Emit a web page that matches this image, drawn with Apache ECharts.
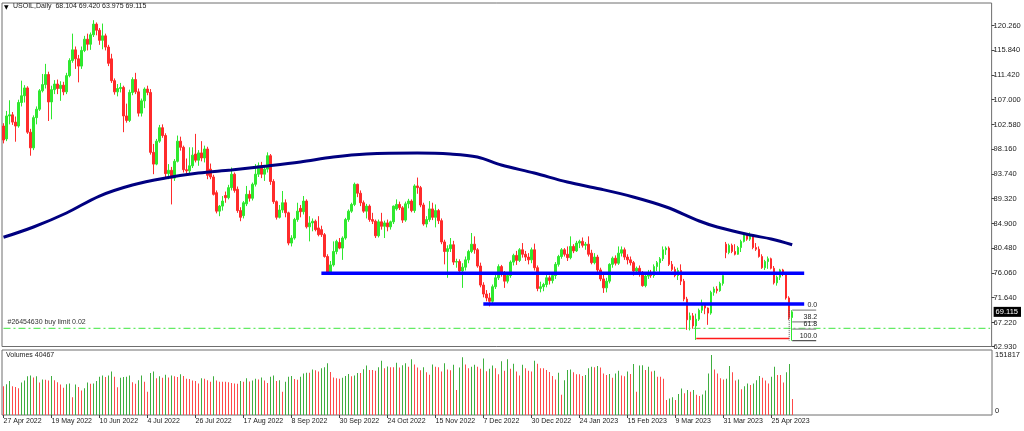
<!DOCTYPE html>
<html><head><meta charset="utf-8">
<script src="https://cdn.jsdelivr.net/npm/echarts@6/dist/echarts.min.js"></script>
<style>html,body{margin:0;padding:0;background:#fff}#c{width:1024px;height:431px}</style>
</head><body><div id="c"></div>
<script>
// ---- data ----
const firstDay = [2022, 3, 27];           // 27 Apr 2022
const barCount = 264;
const skippedDays = ['2022-12-26', '2023-01-02', '2023-04-07'];
const symbolName = 'USOIL,Daily';

const opens = [102.3,100.0,104.1,104.3,103.0,102.3,106.5,107.7,109.1,101.2,
98.4,103.8,105.3,108.6,109.7,111.5,106.6,108.8,109.8,109.0,
109.6,108.4,111.3,114.0,115.9,114.3,113.0,115.8,117.8,116.9,
118.6,120.5,119.4,117.6,118.4,116.4,114.3,110.4,108.4,109.0,
109.2,104.1,103.3,108.3,110.6,108.4,104.6,106.8,108.9,108.3,
97.6,95.5,99.6,102.0,100.6,93.8,94.4,93.0,96.0,99.6,
98.5,94.5,94.3,95.2,97.3,96.2,97.5,96.6,98.2,94.6,
93.2,90.4,87.1,88.0,89.9,89.5,91.3,93.7,91.0,87.2,
86.3,88.4,90.1,89.4,91.9,93.7,95.2,93.7,94.6,97.0,
92.4,88.8,86.0,87.3,88.6,86.8,81.4,82.3,85.6,87.6,
87.0,88.9,84.3,85.0,85.3,84.1,83.8,82.9,79.0,76.1,
77.5,79.9,81.5,80.5,82.3,85.6,87.1,88.3,91.9,90.3,
88.6,87.1,88.0,85.6,85.3,82.7,85.2,84.4,85.0,84.3,
85.2,87.5,88.3,87.7,85.5,88.4,88.9,87.2,91.6,91.3,
88.2,84.8,85.6,87.5,86.0,87.2,85.4,81.6,79.9,80.4,
81.1,78.0,78.1,76.4,77.1,78.4,79.9,81.2,80.2,77.3,
73.9,72.3,71.6,71.0,73.6,75.2,77.2,75.8,74.6,75.6,
78.0,79.2,78.3,80.2,79.4,78.9,78.4,80.2,77.0,73.3,
73.6,74.0,75.2,74.7,75.6,77.6,79.0,80.2,79.4,78.8,
80.8,80.0,81.4,81.7,81.0,81.2,79.6,77.9,78.9,76.6,
75.0,73.4,74.6,77.6,78.7,77.8,79.6,80.2,78.9,78.4,
77.9,76.4,76.9,75.8,73.8,75.5,76.1,75.6,77.2,77.9,
78.6,80.2,80.5,77.6,76.7,75.6,76.5,74.6,71.4,67.7,
68.4,66.6,67.8,69.4,70.3,69.8,68.9,72.6,73.2,72.9,
74.2,81.2,79.7,81.0,79.9,79.4,80.6,81.7,82.9,82.1,
82.8,80.6,80.3,79.0,77.0,78.1,78.6,76.9,74.3,75.3,
76.6,75.8,71.6,68.104];
const highs = [102.8,105.0,106.9,104.8,104.0,107.0,110.4,109.6,109.4,101.8,
104.2,105.8,108.9,111.6,113.4,112.0,109.5,110.5,110.6,110.3,
110.2,111.8,114.4,118.8,116.5,115.0,116.5,118.4,118.8,119.0,
121.2,120.8,119.8,120.6,118.8,116.8,115.2,110.8,109.8,110.0,
109.5,106.3,108.8,111.0,111.8,109.0,107.2,109.2,109.5,108.9,
99.1,100.0,102.5,102.6,101.0,95.5,95.0,96.4,100.6,100.4,
98.8,96.5,98.5,98.5,100.9,98.0,99.6,98.8,98.6,95.6,
93.6,90.8,88.2,89.8,90.6,91.8,94.9,94.0,91.5,87.8,
88.9,91.6,90.8,92.2,95.5,95.8,95.9,95.0,97.6,97.3,
92.8,89.0,88.2,90.7,89.2,87.0,82.8,85.9,88.6,88.2,
89.8,89.2,86.2,85.8,85.6,86.2,84.5,83.2,79.4,78.2,
81.7,82.0,82.3,82.6,85.9,87.4,88.6,92.2,92.0,90.8,
89.0,88.4,88.3,86.8,85.6,85.6,86.8,85.4,85.6,85.4,
88.1,89.2,88.8,88.0,88.8,89.3,89.2,91.9,93.1,91.6,
88.6,86.2,88.9,88.6,88.3,87.5,85.8,82.0,81.0,82.3,
81.8,78.6,78.5,77.8,79.0,80.2,83.2,82.6,80.5,77.9,
74.4,73.0,72.5,74.0,75.8,77.6,77.5,76.4,76.0,78.3,
79.5,80.0,80.5,81.4,80.0,79.6,80.6,81.3,77.4,74.5,
74.3,75.8,75.6,76.0,78.0,79.3,80.5,80.5,80.8,82.6,
81.2,81.8,82.0,82.4,81.6,82.6,80.2,79.6,79.3,77.0,
75.8,75.2,77.8,79.0,79.2,80.8,80.8,80.6,79.4,79.0,
78.2,77.2,77.4,76.4,75.8,76.6,76.6,77.6,78.2,78.9,
80.8,80.8,80.8,78.2,77.2,77.0,77.6,75.0,71.8,69.0,
68.9,68.8,69.7,71.3,70.7,69.9,72.9,73.6,73.7,74.5,
75.9,81.6,81.3,81.3,81.2,80.9,82.0,83.2,83.0,83.3,
82.9,81.4,80.8,79.4,78.4,79.0,78.8,77.3,75.6,76.8,
76.8,76.1,71.9,69.420];
const lows = [99.2,99.6,102.6,102.5,99.5,102.0,105.8,106.5,100.9,97.0,
98.0,102.6,105.0,108.3,109.0,103.2,103.5,108.0,108.0,106.8,
107.8,108.0,111.0,113.6,112.5,110.1,112.5,115.5,115.8,115.9,
118.2,118.5,116.8,116.0,115.8,113.0,110.0,107.9,107.6,108.3,
101.2,102.9,103.0,107.8,108.0,104.0,104.0,105.5,107.8,97.2,
93.7,95.3,99.3,100.2,93.2,92.8,88.3,92.5,95.8,97.9,
94.0,93.8,93.9,94.8,95.8,95.2,96.0,95.8,92.8,92.8,
89.9,86.7,86.2,87.2,88.6,89.2,90.8,90.4,86.8,85.3,
85.8,88.0,88.8,89.0,91.5,93.2,93.0,92.5,94.0,91.8,
88.4,85.6,85.8,86.8,86.0,81.0,80.8,82.0,85.2,86.0,
86.5,84.0,81.7,83.5,83.5,82.6,82.5,78.8,75.8,75.9,
77.2,79.4,80.3,78.4,82.0,85.2,86.8,88.0,89.6,88.0,
86.8,85.8,85.2,84.8,82.3,82.4,83.8,82.3,83.5,83.8,
84.8,87.2,87.3,85.0,85.2,87.6,86.9,86.8,90.2,87.8,
84.5,84.2,85.2,85.5,84.2,84.8,81.2,77.6,75.2,79.8,
77.5,77.0,76.0,73.4,76.5,77.8,79.6,79.5,77.0,73.5,
71.7,71.0,70.1,70.4,73.2,74.8,75.4,73.4,74.2,75.2,
77.4,77.5,78.0,78.8,78.2,77.6,77.8,76.5,72.8,72.6,
72.8,73.5,74.0,74.2,75.0,77.2,78.6,79.0,78.2,78.5,
79.6,79.8,80.5,80.6,80.2,79.0,77.6,77.6,76.2,74.6,
72.5,72.6,74.2,77.0,77.4,77.5,79.0,78.4,77.6,77.4,
75.6,76.0,75.4,73.6,73.5,75.0,75.2,75.2,76.4,75.8,
78.2,79.3,77.3,76.4,75.3,74.8,73.9,71.0,65.9,65.8,
66.1,64.1,67.5,68.9,68.7,66.8,68.6,72.0,72.4,72.7,
73.8,78.7,79.4,79.6,79.2,79.3,79.8,81.5,81.8,81.8,
80.3,80.0,78.8,76.8,76.6,76.8,76.7,74.0,73.8,74.8,
75.5,71.3,67.7,63.975];
const closes = [99.8,104.1,104.3,103.0,102.3,106.5,107.7,109.1,101.2,98.4,
103.8,105.3,108.6,109.7,111.5,106.6,108.8,109.8,109.0,109.6,
108.4,111.3,114.0,115.9,114.3,113.0,115.8,117.8,116.9,118.6,
120.5,119.4,117.6,118.4,116.4,113.5,110.4,108.4,109.0,109.2,
104.1,103.3,108.3,110.6,108.4,104.6,106.8,108.9,108.3,97.6,
95.5,99.6,102.0,100.6,93.8,94.4,93.0,96.0,99.6,98.5,
94.5,94.3,95.2,97.1,96.2,97.5,96.6,98.2,93.5,93.2,
90.1,87.1,88.0,88.9,89.5,91.3,93.7,90.8,87.2,86.0,
88.6,90.1,89.4,91.9,93.7,95.2,93.7,94.6,97.0,92.4,
88.8,86.0,87.3,88.6,86.8,81.4,82.3,85.6,87.1,87.0,
88.9,84.3,85.0,85.3,83.8,82.9,82.9,79.0,76.1,77.5,
79.9,81.7,80.5,82.3,85.6,87.1,88.3,91.9,90.3,88.6,
87.1,88.0,85.6,85.3,82.7,85.2,84.4,85.0,84.3,85.2,
88.0,88.3,87.7,85.5,88.4,88.9,87.2,91.6,91.3,88.2,
84.8,85.6,87.5,86.0,87.2,85.4,81.6,79.9,80.4,81.1,
78.0,78.1,76.4,77.1,78.4,79.9,81.2,80.2,77.3,73.9,
72.3,71.6,71.0,73.6,75.2,77.2,75.8,74.6,75.6,78.0,
79.2,78.3,80.2,79.4,78.9,78.4,80.2,77.0,73.3,73.6,
74.0,75.2,74.7,75.6,77.6,79.0,80.2,79.4,78.8,80.8,
80.0,81.4,81.7,81.0,81.2,79.4,77.9,78.9,76.6,75.0,
73.4,74.6,77.6,78.7,77.8,79.6,80.2,78.9,78.4,77.9,
76.4,76.9,75.8,73.8,75.5,76.1,75.6,77.2,77.9,78.6,
80.2,80.5,77.6,76.7,75.6,76.5,74.6,71.4,67.7,68.4,
66.6,67.8,69.4,70.3,69.8,68.9,72.6,73.2,72.9,74.2,
75.6,79.7,81.0,79.9,79.4,80.6,81.7,82.9,82.1,82.8,
80.6,80.3,79.0,77.0,78.1,78.6,76.9,74.3,75.3,76.6,
75.8,71.6,68.1,69.115];
// volumes, thousands of ticks
const volumesK = [73,78,86,73,71,68,82,87,98,100,
95,98,82,90,89,87,99,88,83,77,
69,78,80,45,77,71,62,68,82,79,
80,86,97,100,96,100,110,97,70,94,
96,97,100,83,79,88,100,84,59,106,
110,93,98,94,102,95,100,98,96,103,
99,92,91,87,86,80,93,92,88,84,
98,87,84,84,84,83,81,80,79,86,
84,93,85,87,92,90,95,87,81,97,
100,86,88,59,84,97,99,91,89,97,
105,107,107,115,113,110,118,121,131,109,
95,93,92,94,99,104,98,100,106,106,
116,125,114,114,112,121,137,118,123,121,
121,132,120,126,131,122,141,128,120,113,
121,108,102,128,122,121,110,131,115,113,
127,63,120,146,128,118,122,127,122,117,
143,111,117,125,118,103,136,112,141,117,
130,110,100,127,118,112,
110,137,130,118,118,114,109,99,90,107,51,
88,114,115,108,103,103,99,101,118,122,121,124,120,105,101,104,94,105,112,100,98,110,104,
129,59,125,126,114,122,110,112,97,97,92,
38,42,45,38,53,67,55,63,59,63,51,48,52,62,105,
151.817,
115,105,93,90,92,124,108,87,90,65,73,80,76,80,88,99,94,87,80,97,122,101,101,82,108,129,
40.467];
// moving average, read at these bars
const maBars   = [0,10,21,32,43,54,65,76,88,99,110,121,138,149,158,166,177,188,199,210,221,232,238,249,256,263];
const maValues = [82.43,84.27,86.77,89.80,91.77,93.02,93.91,94.45,95.16,95.88,96.77,97.31,97.48,97.31,96.77,95.34,93.91,92.30,91.05,89.63,87.84,85.34,84.27,82.84,82.13,81.10];
const priceTicks = [62.93,67.22,71.64,76.06,80.48,84.90,89.32,93.74,98.16,102.58,107.00,111.42,115.84,120.26];
const lastPrice = 69.115;
const upperLevel = 76.0, upperFrom = 106, levelsTo = 267;
const lowerLevel = 70.5, lowerFrom = 160;
const marchLow = 64.35, marchFrom = 231, marchTo = 262;
const buyLimit = 66.18, buyLimitText = '#26454630 buy limit 0.02';
const fibNames = ['0.0','38.2','61.8','100.0'];
const fibPrices = [69.42, 67.34, 66.05, 63.975];
const fibFrom = 263, fibTo = 271, fibAnchorBar = 262;

// ---- categories ----
const monthNames = ['Jan','Feb','Mar','Apr','May','Jun','Jul','Aug','Sep','Oct','Nov','Dec'];
const dates = [];
let day = new Date(Date.UTC(firstDay[0], firstDay[1], firstDay[2]));
while (dates.length < barCount) {
  const wd = day.getUTCDay();
  const iso = day.toISOString().slice(0, 10);
  if (wd !== 0 && wd !== 6 && skippedDays.indexOf(iso) < 0)
    dates.push(day.getUTCDate() + ' ' + monthNames[day.getUTCMonth()] + ' ' + day.getUTCFullYear());
  day = new Date(day.getTime() + 86400000);
}
const slots = 330;
const cats = dates.slice();
for (let i = dates.length; i < slots; i++) cats.push('slot' + i);
const showDate = (idx) => idx % 16 === 0 && idx < barCount;

const candles = opens.map((o, i) => [o, closes[i], lows[i], highs[i]]);
const UP = '#2fe82f', DOWN = '#ff2b2b', VUP = '#3fae3f', VDOWN = '#ff4a4a';
const volData = volumesK.map((v, i) => ({ value: v, itemStyle: { color: (i > 0 && v > volumesK[i - 1]) ? VUP : VDOWN } }));
const maData = new Array(barCount).fill(null);
maBars.forEach((b, k) => { maData[b] = maValues[k]; });

const FONT = 'Liberation Sans';
const TXT = '#1a1a1a';
function hLine(from, to, y, style, extra) {
  return Object.assign({
    type: 'line', xAxisIndex: 0, yAxisIndex: 0, symbol: 'none', silent: true, z: 4,
    data: [[from, y], [to, y]], lineStyle: style
  }, extra || {});
}
const series = [
  { type: 'candlestick', xAxisIndex: 0, yAxisIndex: 0, data: candles, barWidth: 2, z: 2,
    itemStyle: { color: UP, color0: DOWN, borderColor: UP, borderColor0: DOWN, borderWidth: 1 } },
  { type: 'line', xAxisIndex: 0, yAxisIndex: 0, data: maData, connectNulls: true, smooth: 0.35,
    symbol: 'none', z: 5, lineStyle: { color: '#000080', width: 3 } },
  hLine(upperFrom, levelsTo, upperLevel, { color: '#0000ff', width: 3.5 }),
  hLine(lowerFrom, levelsTo, lowerLevel, { color: '#0000ff', width: 3.5 }),
  hLine(marchFrom, marchTo, marchLow, { color: '#ff1a1a', width: 1.5 }),
  { type: 'line', xAxisIndex: 0, yAxisIndex: 0, silent: true, z: 3,
    symbol: 'circle', symbolSize: 1, itemStyle: { color: 'rgba(0,0,0,0)' },
    data: [{ value: [0, buyLimit], label: { show: true, formatter: buyLimitText, position: 'top', align: 'left',
      distance: 2, offset: [4, 0], fontFamily: FONT, fontSize: 7, color: '#333' } }, [slots - 1, buyLimit]],
    lineStyle: { color: '#3ee63e', width: 1, type: [7, 3, 2, 3] } },
  { type: 'line', xAxisIndex: 0, yAxisIndex: 0, symbol: 'none', silent: true, z: 4,
    data: [[fibAnchorBar, fibPrices[0]], [fibAnchorBar, fibPrices[3]]],
    lineStyle: { color: '#555', width: 1, type: 'dotted' } }
];
fibPrices.forEach((p, k) => {
  series.push({ type: 'line', xAxisIndex: 0, yAxisIndex: 0, silent: true, z: 4,
    symbol: 'circle', symbolSize: 1, itemStyle: { color: 'rgba(0,0,0,0)' },
    data: [[fibFrom, p], { value: [fibTo, p], label: { show: true, formatter: fibNames[k], position: 'top',
      align: 'right', distance: 1, offset: [1, 0], fontFamily: FONT, fontSize: 7, color: '#222' } }],
    lineStyle: { color: k === 3 ? '#555' : '#8c8c8c', width: 1.3 } });
});
series.push({ type: 'bar', xAxisIndex: 1, yAxisIndex: 1, data: volData, barWidth: 1, silent: true });

const chart = echarts.init(document.getElementById('c'), null, { renderer: 'canvas' });
chart.setOption({
  animation: false,
  backgroundColor: '#fff',
  grid: [
    { left: 2, top: 3, width: 990, height: 343.5, show: true, borderColor: '#6e6e6e', borderWidth: 1 },
    { left: 2, top: 350, width: 990, height: 65, show: true, borderColor: '#6e6e6e', borderWidth: 1 }
  ],
  xAxis: [
    { type: 'category', gridIndex: 0, data: cats, boundaryGap: true,
      axisLine: { show: false }, axisTick: { show: false }, axisLabel: { show: false }, splitLine: { show: false } },
    { type: 'category', gridIndex: 1, data: cats, boundaryGap: true,
      axisLine: { show: false },
      axisTick: { show: true, interval: showDate, alignWithLabel: true, length: 3, lineStyle: { color: '#444' } },
      axisLabel: { interval: showDate, align: 'left', margin: 3, fontFamily: FONT, fontSize: 7, color: TXT },
      splitLine: { show: false } }
  ],
  yAxis: [
    { type: 'value', gridIndex: 0, position: 'right', min: 62.93, max: 124.27, scale: true,
      splitLine: { show: false }, axisLine: { show: false },
      axisTick: { show: true, customValues: priceTicks, length: 3, lineStyle: { color: '#444' } },
      axisLabel: { customValues: priceTicks.concat([lastPrice]), margin: 2, fontFamily: FONT, fontSize: 7.5, color: TXT,
        formatter: v => Math.abs(v - lastPrice) < 1e-6 ? '{cur|' + v.toFixed(3) + '}' : v.toFixed(3),
        rich: { cur: { backgroundColor: '#000', color: '#fff', fontFamily: FONT, fontSize: 7.5, padding: [1, 3, 1, 2] } } } },
    { type: 'value', gridIndex: 1, position: 'right', min: 0, max: 164.5,
      splitLine: { show: false }, axisLine: { show: false }, axisTick: { show: false },
      axisLabel: { customValues: [0, volumesK[236]], margin: 3, fontFamily: FONT, fontSize: 7.5, color: TXT,
        formatter: v => v === 0 ? '{z|0}' : String(Math.round(v * 1000)),
        rich: { z: { fontFamily: FONT, fontSize: 7.5, color: TXT, padding: [0, 0, 9, 0] } } } }
  ],
  graphic: [
    { type: 'text', left: 4, top: 4, style: { text: '\u25BC', font: '6px "DejaVu Sans"', fill: '#000' } },
    { type: 'text', left: 13, top: 3, style: { text: symbolName + '  ' + [opens[263], highs[263], lows[263], closes[263]].map(v => v.toFixed(3)).join(' '),
      font: '7px "' + FONT + '"', fill: TXT } },
    { type: 'text', left: 6, top: 352, style: { text: 'Volumes ' + Math.round(volumesK[barCount - 1] * 1000), font: '7px "' + FONT + '"', fill: TXT } }
  ],
  series: series
});
</script>
</body></html>
